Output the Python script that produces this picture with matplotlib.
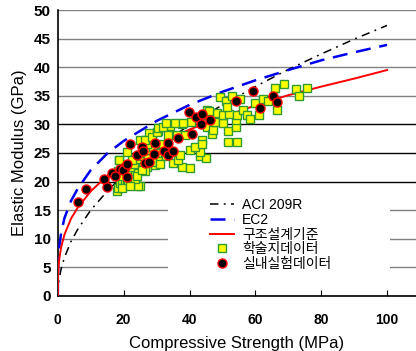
import matplotlib
matplotlib.use('Agg')
import matplotlib.pyplot as plt
from matplotlib.patches import Rectangle

plt.rcParams['font.family'] = ['Liberation Sans', 'Noto Sans CJK KR', 'DejaVu Sans']

# design code curves
curve_x = [0, 0.1, 0.3, 0.5, 1, 2, 4, 6, 10, 15, 20, 30, 40, 50, 60, 70, 80, 90, 100]
aci_209r = [0, 1.5, 2.6, 3.3, 4.7, 6.7, 9.5, 11.6, 15.0, 18.3, 21.2, 25.9, 29.9, 33.4,
            36.6, 39.6, 42.3, 44.9, 47.3]
ec2 = [0, 5.8, 8.0, 8.9, 11.0, 13.6, 16.6, 18.7, 22.0, 24.9, 27.1, 30.6, 33.4, 35.7,
       37.7, 39.5, 41.2, 42.6, 43.9]
kci = [0, 3.9, 5.7, 6.7, 8.5, 10.7, 13.5, 15.4, 18.3, 21.0, 23.1, 26.4, 29.1, 31.3,
       33.3, 35.1, 36.6, 38.0, 39.5]

# 학술지데이터 (journal data)
journal_x = [18.0, 18.3, 18.8, 19.4, 20.4, 20.9, 21.4, 22.4, 23.4, 24.4, 24.9, 24.4, 25.9, 27.0,
             29.5, 30.5, 31.5, 33.0, 18.5, 18.6, 18.3, 19.0, 20.0, 21.0, 22.0, 23.0, 24.0, 25.0,
             26.0, 27.5, 28.0, 29.0, 20.9, 22.5, 23.5, 26.5, 28.5, 31.0, 32.0, 19.5, 22.0, 24.0,
             25.5, 27.0, 30.0,
             30.5, 34.0, 37.6, 40.6, 44.2, 45.2, 27.7, 24.9, 26.4, 28.5, 30.0, 30.5, 32.0, 33.0,
             33.5, 35.6, 38.1, 36.1, 38.6, 43.7, 37.6, 40.1, 35.0, 43.2, 40.1, 45.0, 43.2, 41.6,
             36.6, 37.1, 43.7, 45.2, 46.7, 47.2, 47.7, 50.2, 45.7, 48.2, 51.8, 51.8, 54.3, 54.1,
             54.1, 50.2, 52.1, 54.3, 46.0,
             49.2, 51.1, 52.8, 51.3, 55.3, 56.1, 57.4, 58.4, 59.9, 61.2, 62.2, 63.9, 66.0, 68.7,
             72.5, 75.8, 73.3, 66.5]
journal_y = [18.4, 18.8, 19.7, 20.3, 20.3, 19.7, 19.7, 20.9, 21.7, 22.9, 19.3, 19.3, 23.5, 22.6,
             22.9, 24.1, 25.2, 24.4, 23.8, 23.7, 21.9, 21.0, 22.0, 21.5, 22.5, 23.0, 24.0, 24.5,
             25.0, 24.2, 25.5, 26.0, 25.2, 23.8, 20.5, 21.8, 23.5, 23.0, 26.5, 18.8, 19.2, 21.0,
             22.0, 26.5, 25.0,
             28.8, 29.7, 30.1, 30.5, 31.6, 32.5, 28.5, 27.3, 27.3, 27.8, 28.7, 29.3, 29.6, 30.2,
             28.1, 30.2, 30.2, 28.1, 28.1, 27.3, 22.6, 22.3, 23.2, 24.4, 25.5, 24.2, 25.2, 26.1,
             23.8, 24.6, 26.6, 29.6, 28.4, 29.0, 30.5, 30.2, 31.6, 31.9, 28.8, 27.0, 27.0, 29.6,
             30.8, 31.6, 31.8, 31.6, 32.3,
             34.7, 34.1, 35.0, 33.1, 34.4, 32.5, 31.6, 30.9, 33.7, 31.6, 34.5, 34.1, 36.3, 37.0,
             36.2, 36.3, 35.0, 32.5]

# 실내실험데이터 (lab test data)
lab_x = [6.2, 8.5, 14.1, 14.8, 16.6, 18.8, 20.4, 19.8, 21.1, 17.4, 22.0, 23.9, 25.7, 25.9,
         20.9, 26.4, 27.6, 29.2, 29.6, 32.2, 33.5, 33.6, 34.9, 36.4, 39.8, 41.9, 43.9, 43.5,
         40.9, 46.2, 54.0, 59.4, 61.4, 65.4, 66.5]
lab_y = [16.4, 18.7, 20.4, 19.0, 21.5, 22.2, 22.6, 22.0, 20.8, 20.9, 26.5, 24.6, 26.1, 25.4,
         23.0, 23.3, 23.5, 24.9, 26.7, 25.4, 26.7, 24.6, 25.4, 27.7, 32.2, 31.2, 31.8, 30.1,
         28.3, 30.7, 34.1, 35.9, 32.9, 35.0, 33.9]

fig = plt.figure(figsize=(4.16, 3.51), dpi=100)
ax = fig.add_axes([0.139, 0.157, 0.861, 0.8145])

ax.plot(curve_x, aci_209r, color='black', lw=1.1, dashes=(5.5, 3.5, 1.2, 3.5), label='ACI 209R', zorder=3)
ax.plot(curve_x, ec2, color='#0000ee', lw=1.8, dashes=(6, 3.5), label='EC2', zorder=3)
ax.plot(curve_x, kci, color='red', lw=1.4, label='구조설계기준', zorder=3)
ax.plot(journal_x, journal_y, ls='none', marker='s', ms=6, mfc='#ffff00', mec='#2f9a2f',
        mew=1.0, label='학술지데이터', zorder=4)
ax.plot(lab_x, lab_y, ls='none', marker='o', ms=6.5, mfc='black', mec='red',
        mew=1.0, label='실내실험데이터', zorder=5)

ax.set_xlim(0, 108.8)
ax.set_ylim(0, 50)
ax.set_xticks([0, 20, 40, 60, 80, 100])
ax.set_yticks(range(0, 51, 5))
ax.tick_params(axis='x', direction='in', length=4, pad=12, labelsize=10)
ax.tick_params(axis='y', length=0, pad=5, labelsize=11)
for lbl in ax.get_xticklabels() + ax.get_yticklabels():
    lbl.set_fontweight('bold')

ax.set_axisbelow(True)
ax.yaxis.grid(True, lw=1.0, color='#808080')
for val, gl in zip(ax.get_yticks(), ax.yaxis.get_gridlines()):
    if val in (20, 25, 30):
        gl.set_color('black')

for side in ('top', 'right'):
    ax.spines[side].set_visible(False)
for side in ('left', 'bottom'):
    ax.spines[side].set_linewidth(1.2)

ax.set_xlabel('Compressive Strength (MPa)', fontsize=12, labelpad=7)
ax.set_ylabel('Elastic Modulus (GPa)', fontsize=12, labelpad=5)

# white block behind the legend hides the grid lines
ax.add_patch(Rectangle((0.307, 0.035), 0.62, 0.355, transform=ax.transAxes,
                       facecolor='white', edgecolor='none', zorder=1))
ax.legend(loc='upper left', bbox_to_anchor=(0.425, 0.342), frameon=False, fontsize=10,
          handlelength=1.7, handletextpad=0.6, labelspacing=0.05, borderpad=0,
          borderaxespad=0)

fig.savefig('out.png', dpi=100)
